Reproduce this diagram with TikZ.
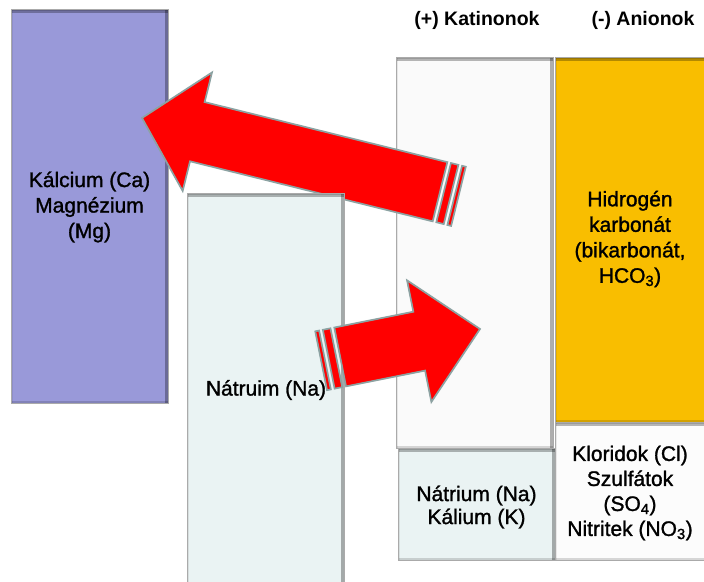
\documentclass[tikz,border=0pt]{standalone}
\usepackage{fontspec}
\setmainfont{Liberation Sans}
\newfontfamily\bodyfont{Liberation Sans}[FakeBold=1.3]
\definecolor{purpleF}{RGB}{153,153,217}
\definecolor{naF}{RGB}{234,243,243}
\definecolor{katF}{RGB}{250,250,250}
\definecolor{orangeF}{RGB}{249,190,0}
\definecolor{clF}{RGB}{252,252,252}
\definecolor{edgegray}{RGB}{170,170,170}
\definecolor{arrowedge}{RGB}{140,162,162}
\begin{document}
\begin{tikzpicture}[x=1pt,y=-1pt,
  boxbase/.style={inner sep=0pt, outer sep=0pt, draw=edgegray, line width=0.8pt, bev},
  bev/.style={path picture={
     \fill[black, opacity=.08] (path picture bounding box.north west) rectangle ([xshift=2pt]path picture bounding box.south west);
     \fill[black, opacity=.15] ([yshift=2pt]path picture bounding box.south west) rectangle (path picture bounding box.south east);
     \fill[black, opacity=.28] (path picture bounding box.north west) rectangle ([yshift=-4pt]path picture bounding box.north east);
     \fill[black, opacity=.14] (path picture bounding box.north west) rectangle ([yshift=-2pt]path picture bounding box.north east);
     \fill[black, opacity=.3] ([xshift=-3pt]path picture bounding box.north east) rectangle (path picture bounding box.south east);
  }},
  arr/.style={fill=red, draw=arrowedge, line width=1.7pt, line join=miter},
  lbl/.style={align=center, inner sep=0pt, font=\bodyfont\fontsize{21}{25.5}\selectfont},
  hdr/.style={inner sep=0pt, font=\bfseries\fontsize{19.5}{23}\selectfont}
]
\clip (0,0) rectangle (704,581);
\fill[white] (0,0) rectangle (704,581);
% boxes
\node[boxbase, fill=purpleF, minimum width=157pt, minimum height=394pt] (ca) at (89.5,206) {};
\node[boxbase, fill=katF, minimum width=157pt, minimum height=391pt] (kat) at (474.5,252.5) {};
\node[boxbase, fill=orangeF, minimum width=153pt, minimum height=365pt] (hco) at (631.5,239.5) {};
\node[boxbase, fill=naF, minimum width=157pt, minimum height=112pt] (nak) at (476.5,504) {};
\node[boxbase, fill=clF, minimum width=153pt, minimum height=138pt] (cl) at (631.5,491) {};
% arrow 1 (towards Ca/Mg)
\begin{scope}[shift={(142,118)}, rotate=-13.9]
\coordinate (a1tip) at (0,0);
\draw[arr] (0,0) -- (57,-61) -- (57,-30.5) -- (307,-30.5) -- (307,30.5) -- (57,30.5) -- (57,61) -- cycle;
\draw[arr] (310.75,-30.5) rectangle (318.4,30.5);
\draw[arr] (322.2,-30.5) rectangle (326,30.5);
\end{scope}
% Na box
\node[boxbase, fill=naF, minimum width=157pt, minimum height=400pt] (na) at (265.5,393) {};
% arrow 2 (towards cations)
\begin{scope}[shift={(480,329)}, rotate=191.3]
\coordinate (a2tip) at (0,0);
\draw[arr] (0,0) -- (62,-62) -- (62,-30) -- (142.6,-30) -- (142.6,30) -- (62,30) -- (62,62) -- cycle;
\draw[arr] (146.5,-30) rectangle (154.25,30);
\draw[arr] (158.1,-30) rectangle (162,30);
\end{scope}
% labels
\node[lbl] (calbl) at (89.5,207) {Kálcium (Ca)\\Magnézium\\(Mg)};
\node[lbl] (nalbl) at (266,390) {Nátruim (Na)};
\node[lbl] (hcolbl) at (630,239) {Hidrogén\\karbonát\\(bikarbonát,\\HCO\textsubscript{3})};
\node[lbl, font=\bodyfont\fontsize{21}{23}\selectfont] (naklbl) at (476.5,507) {Nátrium (Na)\\Kálium (K)};
\node[lbl, font=\bodyfont\fontsize{21}{25}\selectfont] (cllbl) at (630,493) {Kloridok (Cl)\\Szulfátok\\(SO\textsubscript{4})\\Nitritek (NO\textsubscript{3})};
\node[hdr] (kath) at (477,20) {(+) Katinonok};
\node[hdr] (anh) at (643,20) {(-) Anionok};
\end{tikzpicture}
\end{document}
